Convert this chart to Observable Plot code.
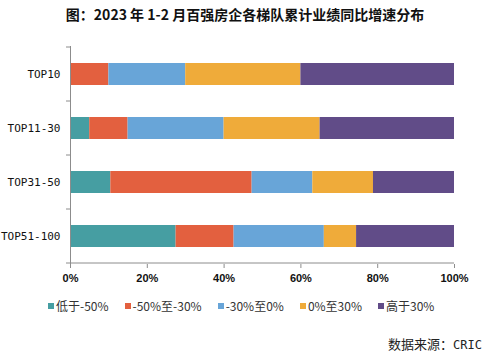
<!DOCTYPE html>
<html>
<head>
<meta charset="utf-8">
<script src="https://cdn.jsdelivr.net/npm/d3@7"></script>
<script src="https://cdn.jsdelivr.net/npm/@observablehq/plot@0.6"></script>
<style>
  html, body { margin: 0; padding: 0; background: #fff; }
  #wrap { width: 490px; height: 356px; position: relative; overflow: hidden; }
  #title { position: absolute; top: 4px; left: 0; width: 490px; text-align: center;
    font-family: "Noto Sans CJK SC", sans-serif; font-weight: 700; font-size: 14px; color: #111; line-height: 20px; }
  #chart { position: absolute; top: 32px; left: 0; }
  #legend { position: absolute; top: 297px; left: 48px; display: flex; gap: 16px;
    font-family: "Noto Sans CJK SC", sans-serif; font-size: 12px; color: #333; line-height: 18px; }
  #legend .item { display: flex; align-items: center; }
  #legend .sw { width: 6px; height: 6px; margin-right: 2px; }
  #source { position: absolute; top: 335px; right: 8px;
    font-family: "Noto Sans CJK SC", sans-serif; font-size: 13px; color: #222; line-height: 18px; }
  #source .mono { font-family: "DejaVu Sans Mono", monospace; font-size: 12px; }
</style>
</head>
<body>
<div id="wrap">
  <div id="title">图：2023 年 1-2 月百强房企各梯队累计业绩同比增速分布</div>
  <div id="chart"></div>
  <div id="legend"></div>
  <div id="source">数据来源：<span class="mono">CRIC</span></div>
</div>
<script>
const groups = ["TOP10", "TOP11-30", "TOP31-50", "TOP51-100"];
const series = ["低于-50%", "-50%至-30%", "-30%至0%", "0%至30%", "高于30%"];
const colors = ["#469ea2", "#e3603f", "#68a5d8", "#efab3a", "#614c88"];
// share (%) of each growth bucket per group, in series order
const top10    = [0, 10, 20, 30, 40];
const top11_30 = [5, 10, 25, 25, 35];
const top31_50 = [10.5, 36.8, 15.8, 15.8, 21.1];
const top51_100 = [27.5, 15.1, 23.5, 8.4, 25.5];
const xTicks = [0, 20, 40, 60, 80, 100];

const valuesByGroup = [top10, top11_30, top31_50, top51_100];
const rows = [];
groups.forEach((g, gi) => series.forEach((s, si) => rows.push({group: g, series: s, value: valuesByGroup[gi][si]})));

const axisColor = "#8c8c8c";

const chart = Plot.plot({
  width: 490,
  height: 256,
  marginTop: 14,
  marginBottom: 24,
  marginLeft: 70,
  marginRight: 36,
  style: {background: "transparent"},
  x: {domain: [0, 100]},
  y: {domain: groups, paddingInner: 0.595, paddingOuter: 0.2975},
  color: {domain: series, range: colors},
  marks: [
    Plot.barX(rows, Plot.stackX({x: "value", y: "group", fill: "series", order: null})),
    Plot.ruleX([0], {stroke: axisColor, strokeWidth: 1}),
    Plot.axisY({tickSize: 0, tickPadding: 10, label: null, fontSize: 11,
      fontFamily: "DejaVu Sans Mono, monospace", fill: "#111"}),
    Plot.axisX({ticks: xTicks, tickSize: 4, tickPadding: 6, label: null, stroke: axisColor,
      tickFormat: d => d + "%", fontSize: 11, fontWeight: "bold",
      fontFamily: "Liberation Sans, Arial, sans-serif", fill: "#111"})
  ]
});

// axis line along the bottom and band-boundary ticks on the y axis, from the plot's scales
const svg = d3.select(chart);
const xs = chart.scale("x");
const ys = chart.scale("y");
const step = ys.step;
const yStart = ys.apply(groups[0]) - (step - ys.bandwidth) / 2;
const x0 = xs.apply(0), x1 = xs.apply(100);
const bounds = d3.range(groups.length + 1).map(i => yStart + i * step);
svg.append("line")
  .attr("x1", x0).attr("x2", x1)
  .attr("y1", bounds[bounds.length - 1]).attr("y2", bounds[bounds.length - 1])
  .attr("stroke", axisColor);
svg.append("g").selectAll("line").data(bounds).join("line")
  .attr("x1", x0 - 4).attr("x2", x0)
  .attr("y1", d => d).attr("y2", d => d)
  .attr("stroke", axisColor);

document.getElementById("chart").appendChild(chart);

const legend = d3.select("#legend");
series.forEach((s, i) => {
  const it = legend.append("div").attr("class", "item");
  it.append("div").attr("class", "sw").style("background", colors[i]);
  it.append("span").text(s);
});
</script>
</body>
</html>
